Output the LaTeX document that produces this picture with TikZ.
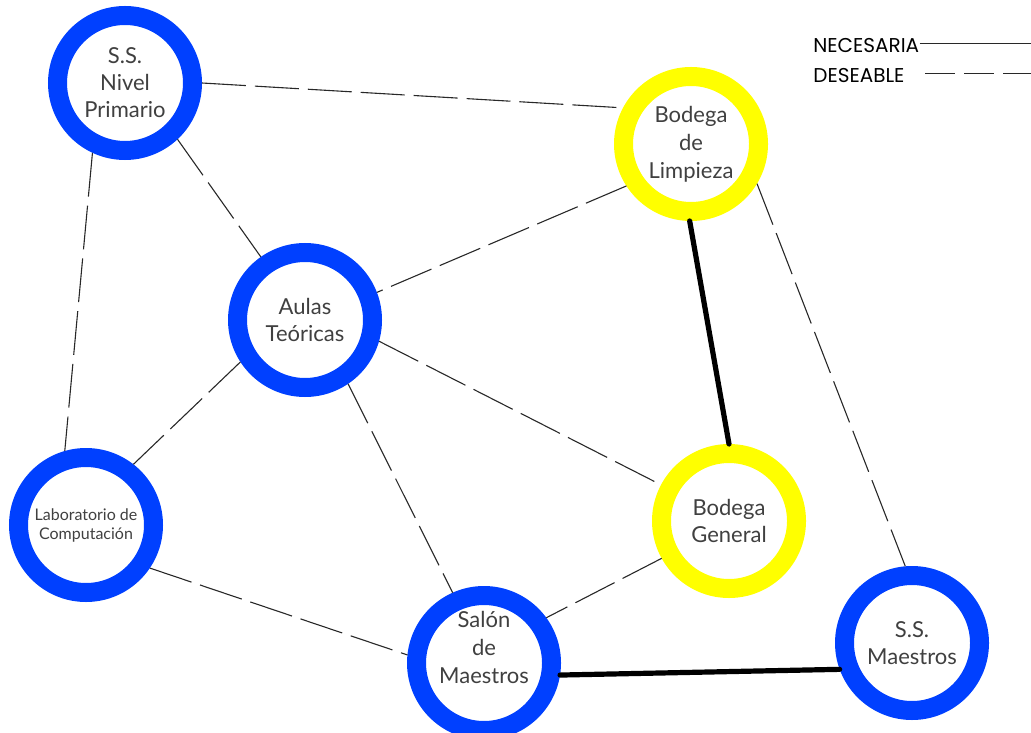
\documentclass[tikz,border=0pt]{standalone}
\usepackage{fontspec}
\setmainfont{Lato}
\newfontfamily\legendfont{Poppins}
\definecolor{anilloazul}{RGB}{0,64,255}
\definecolor{anilloamarillo}{RGB}{255,255,0}
\definecolor{textogris}{RGB}{64,64,64}
\definecolor{lineagris}{RGB}{40,40,40}
\tikzset{
  area/.style={circle, draw=#1, line width=9.5pt, minimum size=67.5pt, inner sep=0pt,
    fill=white, align=center, text=textogris, font=\fontsize{11}{13.5}\selectfont},
  rotulo/.style={align=center, text=textogris, font=\fontsize{11}{14}\selectfont},
  deseable/.style={lineagris, line width=0.55pt, dash pattern=on 22pt off 4.5pt},
  necesaria/.style={black, line width=2.6pt, line cap=round},
  leyenda/.style={anchor=base west, inner sep=0pt, text=black,
    font=\legendfont\fontsize{10}{12}\selectfont},
}
\begin{document}
\begin{tikzpicture}[x=0.5pt,y=-0.5pt]
\useasboundingbox (0,0) rectangle (1031,732);
\node[area=anilloazul] (np) at (125,83) {S.S.\\Nivel\\Primario};
\node[area=anilloamarillo, font=\fontsize{11}{14}\selectfont] (bl) at (691,144) {Bodega\\de\\Limpieza};
\node[area=anilloazul] (au) at (305,320) {Aulas\\Teóricas};
\node[area=anilloazul, font=\fontsize{8}{9.5}\selectfont] (lab) at (86,525) {Laboratorio de\\Computación};
\node[area=anilloamarillo] (bg) at (729,521) {Bodega\\General};
\node[area=anilloazul, label={[rotulo, name=smtexto, yshift=8pt]center:{Salón\\de\\Maestros}}] (sm) at (484,663) {};
\node[area=anilloazul] (ssm) at (912,643) {S.S.\\Maestros};

\draw[deseable] (np.0) -- (bl.152);
\draw[deseable] (np.-47) -- (au.125);
\draw[deseable] (np.-115) -- (lab.106);
\draw[deseable] (bl.-147) -- (au.21);
\draw[necesaria] (bl.-91) -- (bg.90);
\draw[deseable] (bl.-31) -- (ssm.95);
\draw[deseable] (au.-147) -- (lab.52);
\draw[deseable] (au.-16) -- (bg.152);
\draw[deseable] (au.-56) -- (sm.114);
\draw[deseable] (lab.-34) -- (sm.174);
\draw[deseable] (bg.-151) -- (sm.36);
\draw[necesaria] (sm.-9) -- (ssm.200);

\node[leyenda] (necesaria) at (813,53) {NECESARIA};
\node[leyenda] (deseable) at (813,83) {DESEABLE};
\coordinate (necfin) at (1031,44);
\coordinate (desinicio) at (925,74);
\coordinate (desfin) at (1031,74);
\draw[lineagris, line width=0.5pt] (necesaria.east |- necfin) -- (necfin);
\draw[lineagris, line width=0.5pt, dash pattern=on 15pt off 4.5pt] (desinicio) -- (desfin);
\end{tikzpicture}
\end{document}
